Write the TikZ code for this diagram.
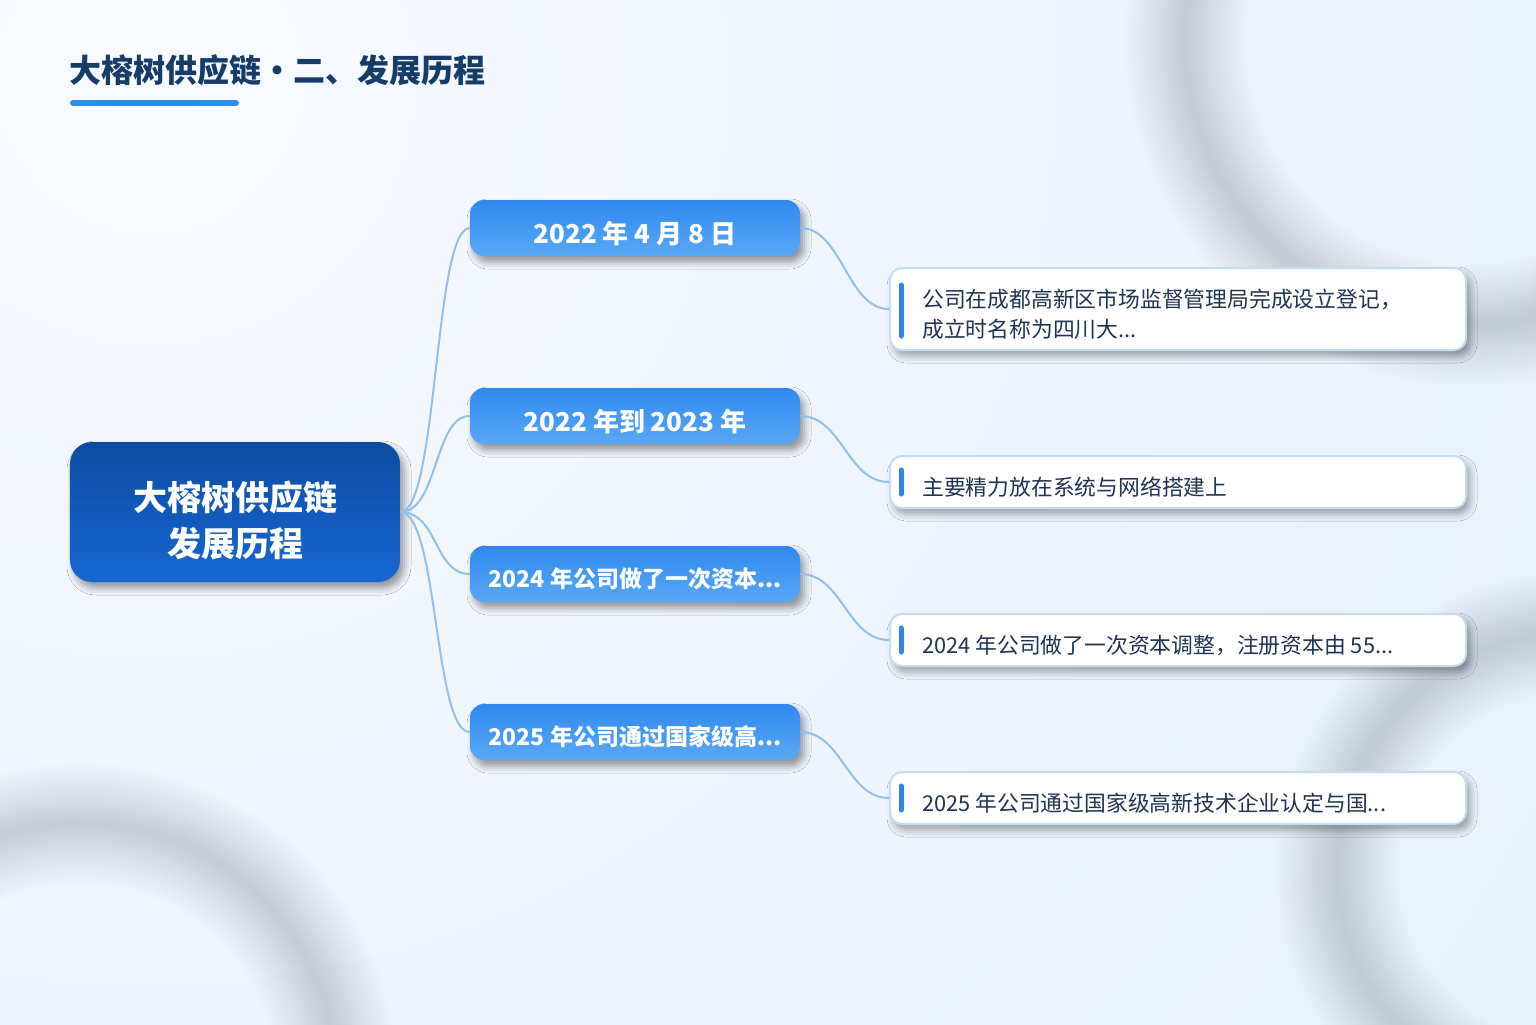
\documentclass[tikz,border=0pt]{standalone}
\usepackage{fontspec}
\setmainfont{Noto Sans CJK SC}
\usetikzlibrary{shadows.blur}
\newcommand\lowtext[2]{\raisebox{-#1}[0pt][0pt]{#2}}
\definecolor{bgTop}{HTML}{F7FAFE}
\definecolor{bgBot}{HTML}{E1ECFB}
\definecolor{ringc}{HTML}{98A3B3}
\definecolor{titlec}{HTML}{163C6A}
\definecolor{accent}{HTML}{2E8BEF}
\definecolor{rootTop}{HTML}{0C4DA2}
\definecolor{rootBot}{HTML}{1767D3}
\definecolor{dateTop}{HTML}{2F89EE}
\definecolor{dateBot}{HTML}{59A8F5}
\definecolor{connc}{HTML}{93C0EA}
\definecolor{detBorder}{HTML}{C3DCF5}
\definecolor{detText}{HTML}{1F3452}
\definecolor{barc}{HTML}{2F86EA}
\begin{document}
\begin{tikzpicture}[x=1bp,y=-1bp,
  titlestyle/.style={font=\bfseries\fontsize{32bp}{36bp}\selectfont, text=titlec, inner sep=0pt},
  rootbox/.style={minimum width=330bp, minimum height=140bp, rounded corners=22bp,
    top color=rootTop, bottom color=rootBot, draw=none, text=white,
    font=\bfseries\fontsize{34bp}{46bp}\selectfont, inner sep=0pt,
    blur shadow={shadow xshift=4bp, shadow yshift=-6bp, shadow blur radius=7bp, shadow opacity=40}},
  datebox/.style={minimum width=330bp, minimum height=56bp, rounded corners=14bp,
    top color=dateTop, bottom color=dateBot, draw=none, text=white, inner sep=0pt,
    font=\bfseries\fontsize{26bp}{30bp}\selectfont,
    blur shadow={shadow xshift=4bp, shadow yshift=-6bp, shadow blur radius=7bp, shadow opacity=40}},
  longdate/.style={font=\bfseries\fontsize{23bp}{28bp}\selectfont},
  detbox/.style={minimum width=576bp, rounded corners=12bp, fill=white, draw=detBorder,
    line width=2bp, inner sep=0pt,
    blur shadow={shadow xshift=4bp, shadow yshift=-6bp, shadow blur radius=7bp, shadow opacity=35}},
  dettext/.style={font=\fontsize{21.8bp}{30bp}\selectfont, text=detText, align=left, inner sep=0pt, anchor=west},
  bar/.style={line width=5bp, line cap=round, draw=barc},
  conn/.style={draw=connc, line width=2bp}
]
\useasboundingbox (0,0) rectangle (1536,1024);
% background
\begin{scope}
\clip (0,0) rectangle (1536,1024);
\shade[inner color=bgTop, outer color=bgBot] (150,80) circle[radius=2300];
\foreach \w in {6,12,...,120} {
  \draw[line width=\w bp, draw=ringc, opacity=0.022] (1470,40) circle[radius=285];
  \draw[line width=\w bp, draw=ringc, opacity=0.022] (80,1080) circle[radius=257];
  \draw[line width=\w bp, draw=ringc, opacity=0.022] (1572,868) circle[radius=235];
}
\end{scope}
% title
\node[titlestyle, anchor=west] (title) at (69,70) {大榕树供应链・二、发展历程};
\draw[line width=6bp, line cap=round, draw=accent] (73,103) -- (236,103);
% root
\node[rootbox] (root) at (235,512) {\lowtext{44bp}{\begin{tabular}[b]{@{}c@{}}大榕树供应链\\发展历程\end{tabular}}};
% date nodes
\node[datebox] (d1) at (635,228) {\lowtext{15bp}{2022 年 4 月 8 日}};
\node[datebox] (d2) at (635,416) {\lowtext{15bp}{2022 年到 2023 年}};
\node[datebox, longdate] (d3) at (635,574) {\lowtext{13.7bp}{2024 年公司做了一次资本...}};
\node[datebox, longdate] (d4) at (635,732) {\lowtext{13.7bp}{2025 年公司通过国家级高...}};
% detail boxes
\node[detbox, minimum height=82bp] (e1) at (1178,309) {};
\node[detbox, minimum height=52bp] (e2) at (1178,482) {};
\node[detbox, minimum height=52bp] (e3) at (1178,640) {};
\node[detbox, minimum height=52bp] (e4) at (1178,798) {};
\draw[bar] (901,285) -- (901,336);
\draw[bar] (901,470) -- (901,494);
\draw[bar] (901,628) -- (901,652);
\draw[bar] (901,786) -- (901,810);
\node[dettext] (t1) at (922,314) {公司在成都高新区市场监督管理局完成设立登记，\\成立时名称为四川大...};
\node[dettext] (t2) at (922,487) {主要精力放在系统与网络搭建上};
\node[dettext] (t3) at (922,645) {2024 年公司做了一次资本调整，注册资本由 55...};
\node[dettext] (t4) at (922,803) {2025 年公司通过国家级高新技术企业认定与国...};
% connectors
\foreach \d in {d1,d2,d3,d4} {
  \draw[conn] (root.east) .. controls +(38,0) and +(-36,0) .. (\d.west);
}
\draw[conn] (d1.east) .. controls +(42,0) and +(-42,0) .. (e1.west);
\draw[conn] (d2.east) .. controls +(42,0) and +(-42,0) .. (e2.west);
\draw[conn] (d3.east) .. controls +(42,0) and +(-42,0) .. (e3.west);
\draw[conn] (d4.east) .. controls +(42,0) and +(-42,0) .. (e4.west);
\end{tikzpicture}
\end{document}
